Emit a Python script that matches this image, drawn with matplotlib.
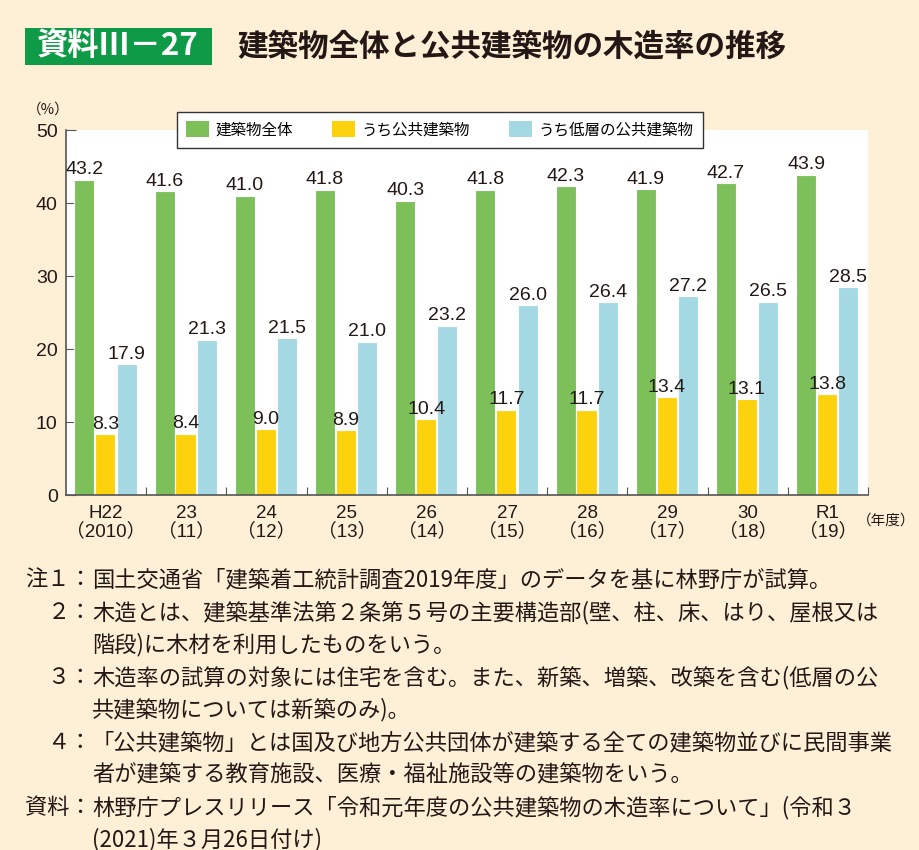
import matplotlib
matplotlib.use('Agg')
import matplotlib.pyplot as plt
from matplotlib.patches import Rectangle
import numpy as np

# dane z wykresu
lata = ['H22\n（2010）', '23\n（11）', '24\n（12）', '25\n（13）', '26\n（14）',
        '27\n（15）', '28\n（16）', '29\n（17）', '30\n（18）', 'R1\n（19）']
ogolem = [43.2, 41.6, 41.0, 41.8, 40.3, 41.8, 42.3, 41.9, 42.7, 43.9]
publiczne = [8.3, 8.4, 9.0, 8.9, 10.4, 11.7, 11.7, 13.4, 13.1, 13.8]
niskie_publiczne = [17.9, 21.3, 21.5, 21.0, 23.2, 26.0, 26.4, 27.2, 26.5, 28.5]
nazwy_serii = ['建築物全体', 'うち公共建築物', 'うち低層の公共建築物']
y_ticki = [0, 10, 20, 30, 40, 50]

przypisy = [
    ('注１：', '国土交通省「建築着工統計調査2019年度」のデータを基に林野庁が試算。'),
    ('２：', '木造とは、建築基準法第２条第５号の主要構造部(壁、柱、床、はり、屋根又は'),
    ('', '階段)に木材を利用したものをいう。'),
    ('３：', '木造率の試算の対象には住宅を含む。また、新築、増築、改築を含む(低層の公'),
    ('', '共建築物については新築のみ)。'),
    ('４：', '「公共建築物」とは国及び地方公共団体が建築する全ての建築物並びに民間事業'),
    ('', '者が建築する教育施設、医療・福祉施設等の建築物をいう。'),
    ('資料：', '林野庁プレスリリース「令和元年度の公共建築物の木造率について」(令和３'),
    ('', '(2021)年３月26日付け)'),
]

JP = ['Noto Sans CJK JP', 'DejaVu Sans']
LAT = ['Liberation Sans', 'Noto Sans CJK JP']
TLO = '#fdf0d6'
ZIELONY = '#7dc05a'
ZOLTY = '#fcd20c'
NIEBIESKI = '#a4d9e4'
TEKST = '#231815'

W, H = 919, 850
fig = plt.figure(figsize=(W / 100, H / 100), dpi=100, facecolor=TLO)


def px(x, y):
    return x / W, 1 - y / H


# osie
ax = fig.add_axes([66 / W, 1 - 495 / H, (868 - 66) / W, (495 - 130) / H])
ax.set_facecolor('white')
x = np.arange(len(lata))
szer = 0.25
serie = [ogolem, publiczne, niskie_publiczne]
kolory = [ZIELONY, ZOLTY, NIEBIESKI]
przesun = [0.23, 0.49, 0.755]
slupki = []
for wart, kol, dx, nazwa in zip(serie, kolory, przesun, nazwy_serii):
    b = ax.bar(x + dx, wart, width=szer, color=kol, edgecolor='white', linewidth=0.8, label=nazwa, zorder=2)
    slupki.append(b)
    for xi, v in zip(x + dx, wart):
        ax.annotate(f'{v:.1f}', (xi, v), xytext=(0, 1), textcoords='offset points',
                    ha='center', va='bottom', fontsize=14, color=TEKST, family=LAT)

ax.set_xlim(0, 10)
ax.set_ylim(0, 50)
ax.set_yticks(y_ticki)
ax.set_yticklabels([str(t) for t in y_ticki], fontsize=14, color=TEKST, family=LAT)
ax.set_xticks(np.arange(1, 11))
ax.set_xticklabels([])
ax.set_xticks(x + 0.5, minor=True)
ax.set_xticklabels(lata, minor=True, fontsize=13.5, color=TEKST, family=LAT, linespacing=1.05)
ax.tick_params(axis='x', which='minor', length=0, pad=7)
ax.tick_params(axis='x', which='major', direction='in', length=6, color='#555555')
ax.tick_params(axis='y', direction='in', length=7, color='#555555', pad=6)
for s in ['top', 'right']:
    ax.spines[s].set_visible(False)
for s in ['left', 'bottom']:
    ax.spines[s].set_color('#555555')
    ax.spines[s].set_linewidth(1.2)

leg = ax.legend(handles=slupki, loc='upper left', bbox_to_anchor=px(177, 112),
                bbox_transform=fig.transFigure, ncol=3, prop={'family': JP, 'size': 11.2},
                frameon=True, fancybox=False, edgecolor='#333333', framealpha=1,
                handlelength=1.45, handleheight=1.15, handletextpad=0.45, columnspacing=2.5,
                borderpad=0.6, borderaxespad=0)
leg.get_frame().set_linewidth(1.0)
for h in leg.legend_handles:
    h.set_edgecolor('none')

fig.text(*px(48, 110), '（%）', ha='center', va='center', fontsize=10.5, family=JP, color=TEKST)
fig.text(*px(857, 521), '（年度）', ha='left', va='center', fontsize=10.5, family=JP, color=TEKST)

# tytuł
fig.patches.append(Rectangle(px(25, 65), 187 / W, 37 / H, transform=fig.transFigure,
                             facecolor='#0f9a48', edgecolor='none'))
fig.text(*px(118, 47), '資料Ⅲ－27', ha='center', va='center', fontsize=22.5, color='white',
         family=JP, fontweight='bold')
fig.text(*px(237, 47), '建築物全体と公共建築物の木造率の推移', ha='left', va='center',
         fontsize=22, fontweight='bold', family=JP, color=TEKST)

# przypisy
y0 = 580
for i, (pref, tekst) in enumerate(przypisy):
    yy = y0 + i * 32.5
    if pref:
        fig.text(*px(92, yy), pref, ha='right', va='center', fontsize=16, family=JP, color=TEKST)
    fig.text(*px(92, yy), tekst, ha='left', va='center', fontsize=16, family=JP, color=TEKST)

fig.savefig('out.png', dpi=100, facecolor=TLO)
